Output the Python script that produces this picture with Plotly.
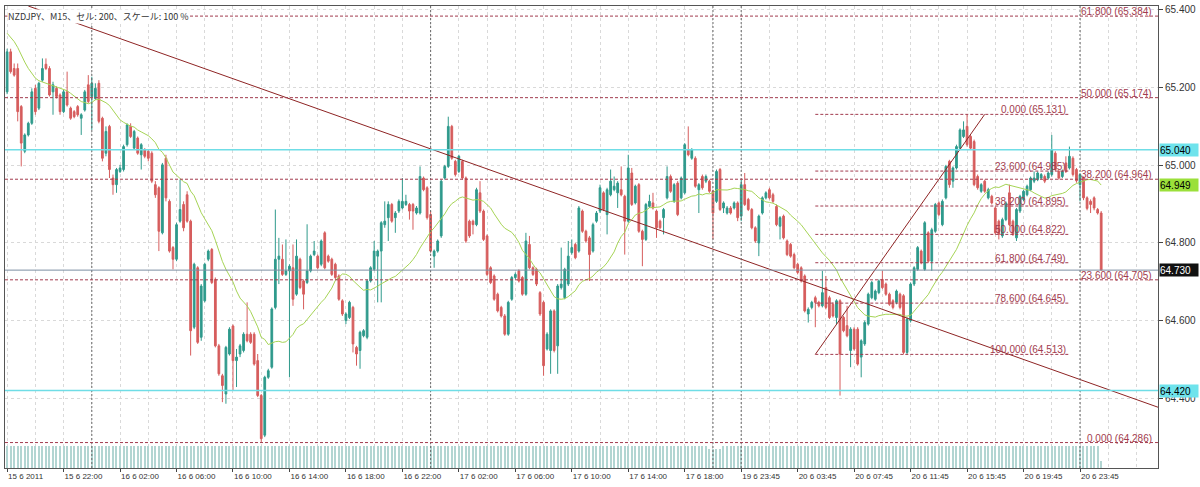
import numpy as np
import plotly.graph_objects as go

# NZDJPY M15 - prices in points (0.001) above 64.000
base = 64.0

open_pts = [
    1189, 1292, 1249, 1249, 1151, 1036, 1078, 1108, 1198, 1147, 1219, 1260, 1249, 1189, 1198, 1181,
    1138, 1189, 1147, 1138, 1151, 1121, 1142, 1207, 1177, 1172, 1211, 1121, 1031, 1100, 967, 950,
    984, 989, 1053, 1100, 1044, 1070, 1027, 1040, 1036, 1031, 950, 942, 826, 1018, 907, 788,
    758, 856, 899, 924, 856, 583, 736, 557, 651, 758, 783, 706, 535, 458, 411, 514,
    586, 497, 514, 523, 565, 565, 565, 497, 407, 305, 454, 480, 634, 758, 758, 719,
    728, 736, 668, 758, 702, 698, 728, 770, 766, 745, 826, 766, 758, 745, 715, 651,
    600, 608, 634, 531, 523, 561, 557, 702, 732, 766, 779, 847, 865, 899, 865, 882,
    890, 899, 899, 899, 877, 877, 967, 942, 873, 766, 779, 818, 967, 997, 1100, 1010,
    984, 1010, 967, 856, 856, 847, 929, 882, 818, 736, 715, 668, 634, 612, 565, 655,
    711, 728, 711, 668, 796, 736, 732, 672, 647, 527, 523, 625, 535, 685, 659, 694,
    775, 796, 779, 882, 830, 813, 779, 856, 882, 929, 873, 924, 937, 929, 937, 920,
    856, 980, 903, 950, 830, 809, 894, 903, 882, 856, 865, 916, 971, 907, 954, 916,
    929, 1040, 1018, 1018, 937, 971, 959, 959, 933, 907, 989, 890, 877, 890, 890, 903,
    869, 950, 912, 886, 839, 800, 877, 916, 937, 924, 894, 843, 869, 805, 796, 770,
    745, 736, 715, 617, 634, 659, 647, 638, 685, 659, 642, 608, 651, 608, 587, 523,
    578, 578, 506, 540, 591, 659, 655, 672, 706, 694, 668, 651, 647, 668, 664, 518,
    600, 694, 732, 779, 732, 826, 753, 830, 903, 847, 916, 1010, 959, 993, 1044, 1074,
    1100, 1074, 1061, 971, 933, 959, 916, 920, 890, 856, 818, 860, 929, 856, 813, 882,
    912, 924, 937, 959, 963, 967, 971, 967, 976, 1031, 984, 971, 1006, 993, 1018, 989,
    950, 967, 916, 907, 916, 886, 877,
]
high_pts = [
    1300, 1300, 1262, 1262, 1155, 1082, 1112, 1198, 1207, 1215, 1275, 1275, 1255, 1215, 1203, 1185,
    1194, 1241, 1151, 1142, 1155, 1134, 1194, 1232, 1228, 1211, 1219, 1125, 1100, 1104, 976, 993,
    1001, 1053, 1108, 1108, 1091, 1074, 1057, 1044, 1040, 1036, 959, 946, 1006, 1027, 912, 792,
    852, 963, 907, 933, 860, 749, 740, 694, 749, 783, 787, 711, 540, 463, 535, 583,
    590, 527, 540, 570, 647, 570, 570, 514, 411, 458, 476, 634, 886, 813, 796, 809,
    745, 796, 809, 762, 706, 848, 770, 805, 770, 809, 830, 770, 762, 749, 719, 655,
    621, 651, 638, 535, 574, 578, 706, 740, 805, 783, 856, 907, 907, 903, 882, 912,
    967, 924, 903, 903, 895, 997, 971, 946, 882, 783, 809, 963, 1001, 1125, 1104, 1014,
    1027, 1014, 971, 860, 860, 942, 959, 886, 822, 740, 719, 672, 638, 617, 651, 715,
    724, 732, 715, 826, 818, 740, 736, 676, 651, 570, 629, 629, 694, 788, 736, 805,
    809, 800, 895, 886, 834, 818, 852, 882, 950, 933, 942, 989, 971, 959, 997, 924,
    1027, 993, 950, 954, 834, 903, 924, 929, 886, 860, 890, 997, 976, 954, 959, 971,
    1057, 1100, 1044, 1023, 954, 976, 976, 963, 937, 989, 993, 907, 895, 895, 907, 907,
    963, 980, 916, 890, 843, 873, 920, 933, 942, 929, 899, 869, 873, 809, 800, 775,
    749, 740, 719, 634, 651, 664, 651, 728, 715, 664, 647, 655, 655, 612, 638, 583,
    583, 583, 552, 600, 672, 702, 680, 706, 728, 698, 672, 655, 680, 672, 668, 608,
    698, 740, 792, 783, 856, 830, 839, 903, 907, 912, 1001, 1014, 997, 1053, 1095, 1113,
    1131, 1078, 1066, 976, 954, 963, 942, 924, 894, 860, 865, 907, 950, 860, 890, 924,
    937, 950, 971, 984, 984, 980, 976, 984, 1078, 1036, 989, 989, 1023, 1048, 1023, 993,
    980, 971, 920, 912, 920, 890, 882,
]
low_pts = [
    1183, 1236, 1228, 1113, 997, 1031, 1074, 1104, 1130, 1142, 1215, 1245, 1177, 1130, 1172, 1130,
    1134, 1151, 1117, 1121, 1125, 1078, 1138, 1160, 1091, 1168, 1108, 1010, 1023, 967, 924, 929,
    980, 984, 1048, 1070, 1040, 1027, 989, 1018, 1010, 954, 916, 779, 822, 907, 775, 732,
    753, 852, 830, 852, 510, 578, 540, 548, 647, 753, 694, 531, 458, 390, 386, 510,
    420, 429, 506, 518, 544, 540, 484, 403, 286, 300, 450, 476, 629, 694, 715, 715,
    454, 638, 664, 681, 629, 694, 724, 766, 732, 740, 732, 749, 715, 706, 651, 612,
    591, 604, 518, 484, 476, 557, 552, 698, 728, 647, 647, 839, 805, 852, 826, 877,
    886, 895, 860, 834, 873, 873, 933, 860, 775, 736, 775, 813, 963, 993, 1014, 971,
    980, 963, 800, 813, 822, 843, 877, 805, 715, 694, 651, 621, 608, 561, 561, 651,
    706, 698, 664, 664, 732, 715, 689, 612, 458, 523, 463, 518, 463, 680, 655, 689,
    770, 758, 775, 826, 800, 702, 775, 852, 877, 882, 822, 920, 933, 890, 920, 770,
    852, 895, 899, 826, 740, 805, 890, 886, 813, 835, 822, 912, 929, 903, 869, 912,
    925, 1023, 1014, 942, 877, 937, 954, 929, 809, 903, 882, 877, 873, 873, 886, 856,
    856, 895, 882, 835, 800, 766, 873, 912, 912, 903, 843, 809, 809, 766, 762, 732,
    719, 698, 621, 595, 629, 583, 634, 634, 629, 604, 608, 591, 407, 570, 557, 480,
    523, 484, 454, 535, 587, 655, 651, 668, 681, 664, 638, 629, 642, 629, 513, 513,
    595, 689, 728, 745, 728, 749, 728, 826, 869, 843, 912, 942, 942, 989, 1040, 1070,
    1048, 1040, 946, 937, 929, 929, 912, 899, 822, 809, 813, 856, 843, 818, 805, 877,
    907, 920, 933, 954, 959, 963, 954, 963, 971, 984, 963, 967, 980, 989, 971, 955,
    907, 910, 884, 877, 884, 873, 730,
]
close_pts = [
    1292, 1241, 1232, 1138, 1057, 1078, 1108, 1189, 1138, 1211, 1249, 1249, 1181, 1207, 1177, 1138,
    1189, 1155, 1121, 1125, 1130, 1130, 1189, 1164, 1211, 1198, 1113, 1018, 1087, 989, 950, 989,
    993, 1048, 1104, 1074, 1087, 1031, 1053, 1023, 1018, 959, 924, 830, 1001, 916, 779, 758,
    847, 886, 839, 856, 574, 745, 544, 689, 745, 779, 698, 535, 463, 433, 531, 578,
    497, 506, 535, 565, 548, 544, 488, 407, 296, 454, 471, 630, 758, 766, 719, 728,
    740, 655, 766, 685, 668, 728, 766, 779, 736, 805, 736, 753, 719, 711, 655, 617,
    617, 647, 540, 514, 570, 574, 702, 736, 779, 779, 852, 856, 899, 856, 877, 907,
    907, 907, 882, 882, 890, 971, 937, 865, 779, 779, 805, 959, 997, 1100, 1018, 976,
    1023, 967, 805, 818, 847, 937, 882, 809, 719, 698, 655, 625, 612, 565, 647, 711,
    719, 702, 668, 805, 736, 719, 694, 617, 484, 565, 625, 523, 689, 694, 732, 766,
    788, 762, 890, 830, 805, 770, 847, 877, 942, 886, 937, 959, 946, 954, 924, 856,
    993, 899, 946, 830, 809, 899, 907, 890, 839, 839, 886, 971, 933, 950, 873, 967,
    1053, 1027, 1040, 946, 950, 942, 971, 933, 877, 984, 886, 903, 890, 877, 903, 865,
    950, 899, 886, 839, 805, 869, 916, 929, 916, 907, 847, 865, 813, 770, 766, 736,
    724, 702, 625, 629, 647, 647, 638, 672, 634, 608, 612, 651, 514, 574, 561, 578,
    527, 488, 548, 595, 668, 698, 676, 702, 685, 668, 642, 634, 676, 634, 518, 604,
    694, 736, 788, 749, 852, 753, 834, 899, 873, 907, 997, 950, 993, 1048, 1091, 1091,
    1053, 1044, 950, 942, 950, 933, 937, 903, 826, 822, 860, 903, 847, 822, 886, 920,
    933, 946, 967, 967, 980, 976, 959, 980, 1040, 989, 967, 984, 984, 1023, 976, 960,
    976, 916, 889, 899, 890, 877, 730,
]

# closes before the first visible bar (estimated from where the MA starts)
prev_close_pts = [1452, 1468, 1459, 1471, 1455, 1448, 1462, 1391, 1352, 1318,
                  1286, 1279, 1262, 1244, 1231, 1226, 1240, 1262, 1270, 1268]
ma_period = 21

# tick volume as it shows in the chart (clipped, relative height)
volume = [
    100, 100, 100, 100, 100, 100, 100, 100, 100, 100, 100, 100, 100, 100, 100, 100, 100, 100, 100, 100,
    100, 100, 100, 100, 100, 100, 100, 100, 100, 100, 100, 100, 100, 100, 100, 100, 100, 100, 100, 100,
    100, 100, 100, 100, 100, 100, 100, 100, 100, 100, 100, 100, 100, 100, 100, 100, 100, 100, 100, 100,
    100, 100, 100, 100, 100, 100, 100, 100, 100, 100, 100, 100, 100, 100, 100, 100, 100, 100, 100, 100,
    100, 100, 100, 100, 100, 100, 100, 100, 100, 100, 100, 100, 100, 100, 100, 100, 100, 100, 100, 100,
    100, 100, 100, 100, 100, 100, 100, 100, 100, 100, 100, 100, 100, 100, 100, 100, 100, 100, 100, 100,
    100, 100, 100, 100, 100, 100, 100, 100, 100, 100, 100, 100, 100, 100, 100, 100, 100, 100, 100, 100,
    100, 100, 100, 100, 100, 100, 100, 100, 100, 100, 100, 100, 100, 100, 100, 100, 100, 100, 100, 100,
    100, 100, 100, 100, 100, 100, 100, 100, 100, 100, 100, 100, 100, 100, 100, 100, 100, 100, 100, 100,
    100, 100, 100, 100, 100, 100, 100, 100, 100, 100, 100, 100, 100, 100, 100, 100, 100, 100, 100, 88,
    88, 88, 88, 100, 100, 100, 100, 100, 100, 100, 100, 100, 100, 100, 100, 100, 100, 100, 100, 100,
    100, 100, 100, 100, 100, 100, 100, 100, 100, 100, 100, 100, 100, 100, 100, 100, 100, 100, 100, 100,
    100, 100, 100, 100, 100, 100, 100, 100, 100, 100, 100, 100, 100, 100, 100, 100, 100, 100, 100, 100,
    100, 100, 100, 100, 100, 100, 100, 100, 100, 100, 100, 100, 100, 100, 100, 100, 100, 100, 100, 100,
    100, 100, 100, 100, 100, 100, 100, 100, 100, 100, 100, 100, 100, 100, 100, 100, 100, 100, 100, 100,
    100, 100, 100, 100, 100, 100, 100, 100, 100, 100, 32,
]

tick_labels = ["15 6 2011", "15 6 22:00", "16 6 02:00", "16 6 06:00", "16 6 10:00",
               "16 6 14:00", "16 6 18:00", "16 6 22:00", "17 6 02:00", "17 6 06:00",
               "17 6 10:00", "17 6 14:00", "17 6 18:00", "19 6 23:45", "20 6 03:45",
               "20 6 07:45", "20 6 11:45", "20 6 15:45", "20 6 19:45", "20 6 23:45"]
price_ticks = [64.4, 64.6, 64.8, 65.0, 65.2, 65.4]

# objects drawn on the chart
hline_prices = [65.040, 64.420]
fib1_levels = [61.8, 50.0, 38.2, 23.6, 0.0]
fib1_prices = [65.384, 65.174, 64.964, 64.705, 64.286]
fib2_levels = [0.0, 23.6, 38.2, 50.0, 61.8, 78.6, 100.0]
fib2_prices = [65.131, 64.985, 64.895, 64.822, 64.749, 64.645, 64.513]
fib2_x = [229, 277]
fib2_y = [64.513, 65.131]
fib2_end = 301
trend_x = [6.0, 326.1]
trend_y = [65.410, 64.377]
separators = [24, 120, 200, 208, 304]

n = min(len(open_pts), len(high_pts), len(low_pts), len(close_pts), len(volume))
idx = np.arange(n)
o = base + np.array(open_pts[:n]) / 1000
h = base + np.array(high_pts[:n]) / 1000
l = base + np.array(low_pts[:n]) / 1000
c = base + np.array(close_pts[:n]) / 1000

full = np.r_[base + np.array(prev_close_pts) / 1000, c]
ma = np.convolve(full, np.ones(ma_period) / ma_period, mode="valid")[-n:]

fib_red = "#a23b4e"
trend_red = "#8e2424"
font_ui = "Liberation Sans, Arial, sans-serif"

fig = go.Figure()

# volume strip at the bottom of the chart
fig.add_trace(go.Bar(x=idx, y=volume[:n], yaxis="y2", width=0.32,
                     marker=dict(color="#b2d5d2", line_width=0), showlegend=False))

fig.add_trace(go.Candlestick(
    x=idx, open=o, high=h, low=l, close=c,
    increasing=dict(line=dict(color="#2f9a8c", width=1), fillcolor="#2f9a8c"),
    decreasing=dict(line=dict(color="#d65d5d", width=1), fillcolor="#d65d5d"),
    showlegend=False))

fig.add_trace(go.Scatter(x=idx, y=ma, mode="lines",
                         line=dict(color="#a6d455", width=1), showlegend=False))

fig.add_trace(go.Scatter(x=trend_x, y=trend_y, mode="lines",
                         line=dict(color=trend_red, width=1), showlegend=False))
fig.add_trace(go.Scatter(x=fib2_x, y=fib2_y, mode="lines",
                         line=dict(color=trend_red, width=1), showlegend=False))

shapes = []
for s in separators:
    shapes.append(dict(type="line", xref="x", yref="paper", x0=s, x1=s, y0=0, y1=1,
                       line=dict(color="#666666", width=1, dash="2px,2px")))
for p in fib1_prices:
    shapes.append(dict(type="line", xref="paper", yref="y", x0=0, x1=1, y0=p, y1=p,
                       line=dict(color=fib_red, width=1, dash="3px,2px")))
for p in fib2_prices:
    shapes.append(dict(type="line", xref="x", yref="y", x0=fib2_x[0], x1=fib2_end, y0=p, y1=p,
                       line=dict(color=fib_red, width=1, dash="3px,2px")))
for p in hline_prices:
    shapes.append(dict(type="line", xref="paper", yref="y", x0=0, x1=1, y0=p, y1=p,
                       line=dict(color="#6fdde6", width=1.5)))
shapes.append(dict(type="line", xref="paper", yref="y", x0=0, x1=1, y0=c[-1], y1=c[-1],
                   line=dict(color="#7d8fa3", width=1)))

annotations = []
annotations.append(dict(xref="paper", yref="paper", x=0, y=1, xanchor="left", yanchor="top",
                        xshift=2, yshift=-3, showarrow=False, bgcolor="white", borderpad=0,
                        text="NZDJPY、M15、セル: 200、スケール: 100 %",
                        font=dict(family="Noto Sans CJK JP, Liberation Sans", size=9, color="#333333")))
for lv, p in zip(fib1_levels, fib1_prices):
    annotations.append(dict(xref="paper", yref="y", x=0.9957, y=p, xanchor="right", yanchor="bottom",
                            yshift=-2, showarrow=False, borderpad=0,
                            text=f"{lv:.3f} ({p:.3f})", font=dict(family=font_ui, size=10, color=fib_red)))
for lv, p in zip(fib2_levels, fib2_prices):
    annotations.append(dict(xref="x", yref="y", x=fib2_end - 0.7, y=p, xanchor="right", yanchor="bottom",
                            yshift=-2, showarrow=False, borderpad=0,
                            text=f"{lv:.3f} ({p:.3f})", font=dict(family=font_ui, size=10, color=fib_red)))

# price boxes on the right scale
boxes = [(hline_prices[0], "#6fe3ec", "#000000"),
         (ma[-1], "#9be03a", "#000000"),
         (c[-1], "#111111", "#ffffff"),
         (hline_prices[1], "#6fe3ec", "#000000")]
for p, bg, fg in boxes:
    annotations.append(dict(xref="paper", yref="y", x=1, y=p, xanchor="left", yanchor="middle",
                            xshift=1, showarrow=False, bgcolor=bg, borderpad=0, width=38, height=12,
                            align="left", text=f"{p:.3f}", font=dict(family=font_ui, size=10, color=fg)))

fig.update_layout(
    width=1200, height=487,
    margin=dict(l=5, r=42, t=4, b=19),
    paper_bgcolor="white", plot_bgcolor="white",
    shapes=shapes, annotations=annotations,
    showlegend=False, bargap=0,
    xaxis=dict(
        range=[-0.6, 326.1], rangeslider=dict(visible=False),
        tickmode="array", tickvals=[16 * k for k in range(len(tick_labels))], ticktext=tick_labels,
        ticklabelposition="outside right",
        ticks="outside", ticklen=3, tickcolor="#444444",
        tickfont=dict(family=font_ui, size=8, color="#333333"),
        showgrid=True, gridcolor="#d9d9d9", griddash="3px,3px", gridwidth=1,
        minor=dict(tickmode="linear", tick0=0, dtick=8, showgrid=True,
                   gridcolor="#d9d9d9", griddash="3px,3px", ticks=""),
        showline=True, linecolor="#555555", linewidth=1, mirror=True, zeroline=False,
    ),
    yaxis=dict(
        domain=[0, 1], range=[64.2205, 65.410], side="right",
        tickmode="array", tickvals=price_ticks, tickformat=".3f",
        ticks="outside", ticklen=4, tickcolor="#444444",
        tickfont=dict(family=font_ui, size=10, color="#333333"),
        showgrid=True, gridcolor="#d9d9d9", griddash="3px,3px",
        showline=True, linecolor="#555555", linewidth=1, mirror=True, zeroline=False,
    ),
    yaxis2=dict(domain=[0, 0.0474], range=[0, 100], anchor="x", visible=False,
                showgrid=False, zeroline=False),
)

# the page's default body margin would push the chart 8px right/down
fig.write_html("out.html", config={"displayModeBar": False},
               post_script="document.body.style.margin='0px';")
